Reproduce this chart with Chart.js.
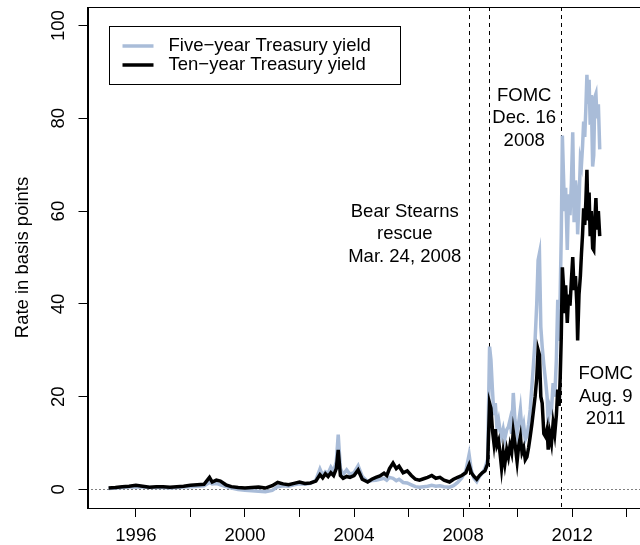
<!DOCTYPE html>
<html>
<head>
<meta charset="utf-8">
<script src="https://cdn.jsdelivr.net/npm/chart.js"></script>
<style>
  html, body { margin: 0; padding: 0; background: #fff; overflow: hidden; }
  canvas { display: block; }
</style>
</head>
<body>
<canvas id="myChart" width="664" height="545"></canvas>
<script>
// weekly-ish samples (decimal years)
const dates = [
  1995.00, 1995.25, 1995.50, 1995.75, 1996.00, 1996.25, 1996.50, 1996.75, 1997.00, 1997.25,
  1997.50, 1997.75, 1998.00, 1998.25, 1998.50, 1998.70, 1998.80, 1998.95, 1999.10, 1999.30,
  1999.50, 1999.75, 2000.00, 2000.25, 2000.50, 2000.75, 2001.00, 2001.20, 2001.40, 2001.60,
  2001.80, 2002.00, 2002.20, 2002.40, 2002.60, 2002.75, 2002.85, 2002.95, 2003.05, 2003.15,
  2003.25, 2003.35, 2003.42, 2003.50, 2003.60, 2003.73, 2003.85, 2004.00, 2004.15, 2004.30,
  2004.50, 2004.65, 2004.80, 2004.95, 2005.10, 2005.20, 2005.30, 2005.43, 2005.55, 2005.65,
  2005.80, 2005.95, 2006.10, 2006.25, 2006.40, 2006.55, 2006.70, 2006.85, 2007.00, 2007.15,
  2007.30, 2007.50, 2007.65, 2007.80, 2007.95, 2008.10, 2008.22, 2008.30, 2008.40, 2008.50,
  2008.60, 2008.70, 2008.80, 2008.90, 2008.97, 2009.02, 2009.08, 2009.13, 2009.18, 2009.24,
  2009.30, 2009.36, 2009.41, 2009.47, 2009.53, 2009.60, 2009.66, 2009.72, 2009.78, 2009.84,
  2009.90, 2009.98, 2010.04, 2010.10, 2010.16, 2010.22, 2010.28, 2010.34, 2010.40, 2010.46,
  2010.52, 2010.58, 2010.64, 2010.70, 2010.75, 2010.80, 2010.85, 2010.90, 2010.96, 2011.02,
  2011.08, 2011.12, 2011.18, 2011.24, 2011.30, 2011.36, 2011.42, 2011.47, 2011.52, 2011.56,
  2011.60, 2011.64, 2011.68, 2011.72, 2011.76, 2011.82, 2011.87, 2011.92, 2011.97, 2012.02,
  2012.07, 2012.12, 2012.17, 2012.20, 2012.25, 2012.30, 2012.34, 2012.38, 2012.42, 2012.46,
  2012.50, 2012.54, 2012.58, 2012.62, 2012.66, 2012.70, 2012.75, 2012.79, 2012.83, 2012.87,
  2012.91, 2012.96, 2013.01
]
const fiveYear = [
  0.2, 0.3, 0.4, 0.5, 0.6, 0.5, 0.4, 0.4, 0.4, 0.3,
  0.4, 0.5, 0.6, 0.7, 0.8, 1.5, 1.2, 1.3, 1.0, 0.6,
  0.3, 0.0, -0.2, -0.3, -0.4, -0.5, -0.2, 0.6, 0.8, 0.7,
  1.0, 1.2, 1.1, 1.3, 2.0, 4.4, 3.0, 3.8, 3.5, 4.8,
  3.9, 6.0, 11.8, 4.5, 3.2, 4.2, 3.3, 3.6, 5.1, 2.8,
  1.7, 1.9, 2.0, 2.2, 2.4, 2.0, 2.6, 2.4, 1.9, 2.2,
  1.5, 1.4, 1.0, 0.6, 0.5, 0.6, 0.7, 0.9, 0.7, 0.8,
  0.6, 0.5, 0.8, 1.5, 2.5, 4.0, 7.5, 4.2, 2.4, 1.7,
  2.8, 3.5, 4.5, 6.5, 30.8, 28.0, 21.0, 16.0, 18.6, 13.5,
  15.0, 12.5, 11.4, 13.0, 11.0, 12.9, 13.5, 15.0, 12.0, 20.8,
  15.0, 12.0, 14.5, 17.2, 12.5, 14.0, 10.7, 11.5, 14.0, 17.2,
  22.0, 27.0, 32.3, 40.0, 49.4, 50.9, 35.0, 30.8, 26.9, 23.6,
  20.0, 14.3, 18.0, 17.0, 22.9, 20.0, 28.0, 40.9, 32.0, 42.0,
  55.0, 76.3, 68.0, 60.0, 65.0, 51.6, 63.6, 59.1, 66.0, 77.0,
  57.6, 66.6, 63.6, 55.0, 62.0, 71.1, 70.0, 74.0, 79.3, 76.0,
  82.0, 89.4, 83.1, 88.3, 78.6, 85.0, 69.6, 72.0, 84.6, 85.3,
  80.0, 83.0, 73.3
]
const tenYear = [
  0.3, 0.4, 0.6, 0.7, 0.9, 0.7, 0.5, 0.6, 0.6, 0.5,
  0.6, 0.7, 0.9, 1.0, 1.1, 2.6, 1.6, 2.0, 1.8, 1.0,
  0.6, 0.4, 0.3, 0.4, 0.5, 0.3, 0.8, 1.5, 1.2, 1.0,
  1.3, 1.6, 1.3, 1.4, 1.8, 3.2, 2.5, 3.4, 2.8, 3.6,
  3.0, 4.5, 8.5, 3.0, 2.4, 2.8, 2.6, 3.0, 4.2, 2.2,
  1.6, 2.2, 2.6, 2.9, 3.5, 3.0, 4.5, 5.7, 4.5, 5.0,
  3.6, 4.0, 3.0, 2.2, 2.0, 2.3, 2.6, 3.0, 2.4, 2.6,
  2.0, 1.6, 2.2, 2.6, 3.0, 3.6, 5.3, 3.6, 2.8, 2.2,
  3.0, 3.6, 4.0, 5.5, 18.6, 17.5, 12.5, 10.0, 13.0, 9.5,
  10.5, 7.5, 4.6, 8.0, 5.5, 8.6, 7.0, 9.5, 8.0, 12.5,
  10.0, 6.0, 9.5, 11.4, 8.0, 9.0, 6.4, 7.0, 9.0, 11.4,
  14.0, 17.0, 20.0, 24.0, 30.1, 29.0, 20.0, 18.6, 12.0, 11.4,
  13.0, 8.6, 12.0, 10.0, 14.3, 12.0, 16.0, 21.5, 18.0, 24.0,
  33.0, 47.9, 44.0, 38.0, 44.0, 35.9, 42.0, 39.6, 45.0, 50.1,
  43.0, 46.0, 40.0, 32.1, 42.0, 46.0, 50.8, 55.0, 60.6, 57.0,
  62.0, 68.9, 58.0, 64.0, 54.6, 60.0, 52.0, 51.6, 58.0, 62.8,
  56.0, 60.0, 54.6
]

const xTickValues = [1996, 1998, 2000, 2002, 2004, 2006, 2008, 2010, 2012, 2014]
const xTickLabels = ['1996', '', '2000', '', '2004', '', '2008', '', '2012', '']
const yTickValues = [0, 20, 40, 60, 80, 100]
const yTickLabels = ['0', '20', '40', '60', '80', '100']

const eventDates = [2008.225, 2008.957, 2011.605]
const noteX = [2005.86, 2010.24, 2013.23]
const noteY = [55, 80, 20]
const noteText = [
  ['Bear Stearns', 'rescue', 'Mar. 24, 2008'],
  ['FOMC', 'Dec. 16', '2008'],
  ['FOMC', 'Aug. 9', '2011']
]

const FONT = '18.5px "Liberation Sans", Arial, Helvetica, sans-serif'
const BLUE = '#a9bcd8'

const toPoints = vals => dates.map((d, i) => ({ x: d, y: vals[i] }))

// R-style box, rotated y labels, legend and notes
const overlayPlugin = {
  id: 'overlay',
  beforeDatasetsDraw (chart) {
    const { ctx, chartArea: a, scales: { x, y } } = chart
    ctx.save()
    ctx.strokeStyle = '#000'
    ctx.lineWidth = 1
    ctx.setLineDash([1, 3])
    const y0 = Math.round(y.getPixelForValue(0)) + 0.5
    ctx.beginPath()
    ctx.moveTo(a.left, y0)
    ctx.lineTo(a.right, y0)
    ctx.stroke()
    ctx.setLineDash([4, 4])
    eventDates.forEach(d => {
      const px = Math.round(x.getPixelForValue(d)) + 0.5
      ctx.beginPath()
      ctx.moveTo(px, a.top)
      ctx.lineTo(px, a.bottom)
      ctx.stroke()
    })
    ctx.restore()
  },
  afterDraw (chart) {
    const { ctx, chartArea: a, scales: { x, y } } = chart
    ctx.save()
    ctx.strokeStyle = '#000'
    ctx.lineWidth = 1
    ctx.strokeRect(Math.round(a.left) + 0.5, Math.round(a.top) + 0.5,
      Math.round(a.right - a.left), Math.round(a.bottom - a.top))

    ctx.fillStyle = '#000'
    ctx.font = FONT
    ctx.textAlign = 'center'
    ctx.textBaseline = 'middle'

    // y tick labels, parallel to the axis
    yTickValues.forEach((v, i) => {
      ctx.save()
      ctx.translate(58.5, y.getPixelForValue(v))
      ctx.rotate(-Math.PI / 2)
      ctx.fillText(yTickLabels[i], 0, 0)
      ctx.restore()
    })

    // y title
    ctx.save()
    ctx.translate(23, (a.top + a.bottom) / 2)
    ctx.rotate(-Math.PI / 2)
    ctx.fillText('Rate in basis points', 0, 0)
    ctx.restore()

    // notes
    noteText.forEach((lines, i) => {
      const cx = x.getPixelForValue(noteX[i])
      const cy = y.getPixelForValue(noteY[i])
      lines.forEach((t, j) => ctx.fillText(t, cx, cy + (j - 1) * 22.3))
    })

    // legend
    const lx = Math.round(x.getPixelForValue(1995)) + 0.5
    const ly = Math.round(y.getPixelForValue(100)) + 0.5
    ctx.strokeRect(lx, ly, 291, 58)
    const ds = chart.data.datasets
    ds.forEach((d, i) => {
      const ry = ly + 19.5 + i * 19
      ctx.strokeStyle = d.borderColor
      ctx.lineWidth = 3.5
      ctx.beginPath()
      ctx.moveTo(lx + 13, ry)
      ctx.lineTo(lx + 44, ry)
      ctx.stroke()
      ctx.textAlign = 'left'
      ctx.fillText(d.label, lx + 59, ry)
    })
    ctx.restore()
  }
}

const config = {
  type: 'line',
  data: {
    datasets: [
      {
        label: 'Five\u2212year Treasury yield',
        data: toPoints(fiveYear),
        borderColor: BLUE,
        borderWidth: 3.5,
        pointRadius: 0,
        tension: 0,
        order: 1
      },
      {
        label: 'Ten\u2212year Treasury yield',
        data: toPoints(tenYear),
        borderColor: '#000',
        borderWidth: 3.5,
        pointRadius: 0,
        tension: 0,
        order: 0
      }
    ]
  },
  options: {
    responsive: false,
    animation: false,
    devicePixelRatio: 1,
    layout: { padding: { left: 0, top: 7, right: 10, bottom: 0 } },
    plugins: {
      legend: { display: false },
      tooltip: { enabled: false }
    },
    scales: {
      x: {
        type: 'linear',
        min: 1994.226,
        max: 2015,
        afterBuildTicks: s => { s.ticks = xTickValues.map(v => ({ value: v })) },
        afterFit: s => { s.height = 37 },
        ticks: {
          autoSkip: false,
          maxRotation: 0,
          padding: 8,
          color: '#000',
          font: { family: '"Liberation Sans", Arial, sans-serif', size: 18.5 },
          callback: v => xTickLabels[xTickValues.indexOf(v)]
        },
        grid: { drawOnChartArea: false, drawTicks: true, tickLength: 9, color: '#000' },
        border: { display: true, color: '#000' }
      },
      y: {
        type: 'linear',
        min: -4,
        max: 104,
        afterBuildTicks: s => { s.ticks = yTickValues.map(v => ({ value: v })) },
        afterFit: s => { s.width = 87.5 },
        ticks: { display: false },
        grid: { drawOnChartArea: false, drawTicks: true, tickLength: 9, color: '#000' },
        border: { display: true, color: '#000' }
      }
    }
  },
  plugins: [overlayPlugin]
}

const chart = new Chart(document.getElementById('myChart').getContext('2d'), config)
</script>
</body>
</html>
